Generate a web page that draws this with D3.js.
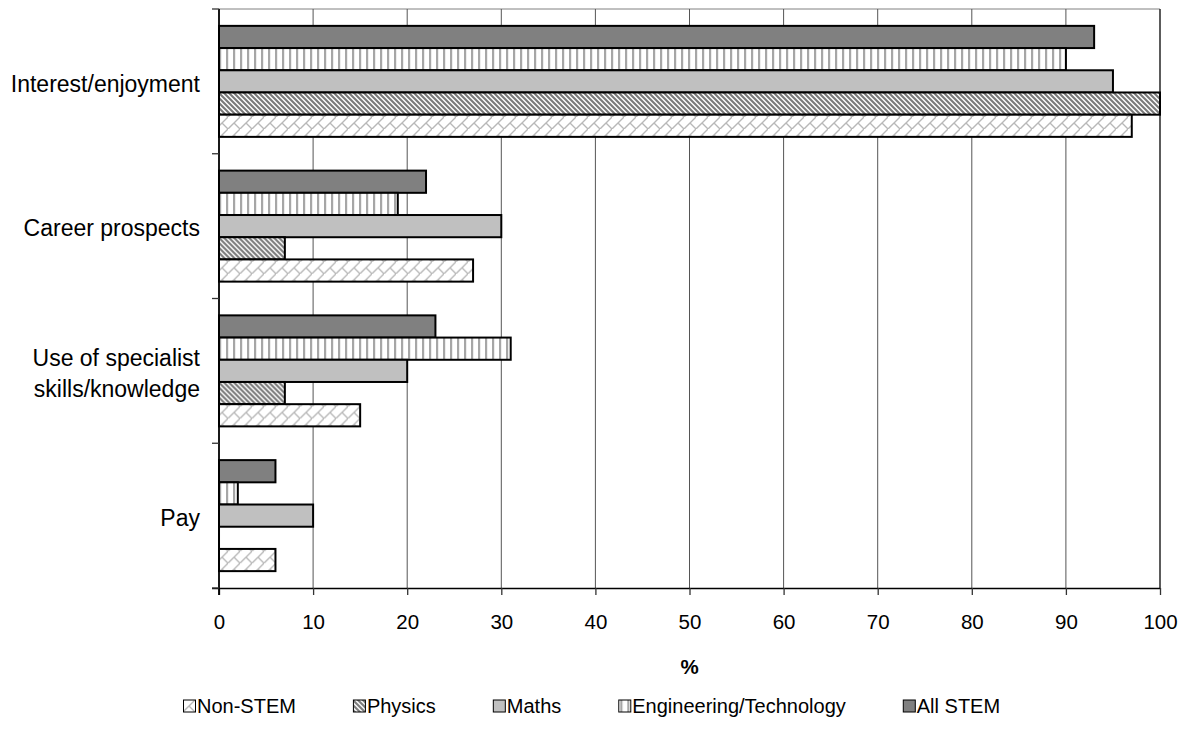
<!DOCTYPE html>
<html><head><meta charset="utf-8">
<script src="https://cdn.jsdelivr.net/npm/d3@7/dist/d3.min.js"></script>
<style>
html,body{margin:0;padding:0;background:#fff;}
svg{display:block;font-family:"Liberation Sans",Arial,sans-serif;}
</style></head>
<body>
<svg id="chart" width="1190" height="742"></svg>
<script>
// ---- data ----
const categories = ["Interest/enjoyment", "Career prospects", "Use of specialist\nskills/knowledge", "Pay"];
const seriesNames = ["All STEM", "Engineering/Technology", "Maths", "Physics", "Non-STEM"]; // top-to-bottom inside each group
const allSTEM     = [93, 22, 23, 6];
const engTech     = [90, 19, 31, 2];
const maths       = [95, 30, 20, 10];
const physics     = [100, 7, 7, 0];
const nonSTEM     = [97, 27, 15, 6];
const legendOrder = ["Non-STEM", "Physics", "Maths", "Engineering/Technology", "All STEM"];
const xTicks      = [0, 10, 20, 30, 40, 50, 60, 70, 80, 90, 100];
const xLabel      = "%";

const seriesValues = {
  "All STEM": allSTEM,
  "Engineering/Technology": engTech,
  "Maths": maths,
  "Physics": physics,
  "Non-STEM": nonSTEM
};

// ---- layout ----
const svg = d3.select("#chart");
const mLeft = 219, mRight = 1160, mTop = 9, mBottom = 588;

const defs = svg.append("defs");
// Engineering: vertical stripes
const pEng = defs.append("pattern").attr("id", "pEng").attr("patternUnits", "userSpaceOnUse")
  .attr("width", 7).attr("height", 7);
pEng.append("rect").attr("width", 7).attr("height", 7).attr("fill", "#fff");
pEng.append("rect").attr("x", 2).attr("width", 2.2).attr("height", 7).attr("fill", "#a6a6a6");
// Physics: dense downward diagonal
const pPhy = defs.append("pattern").attr("id", "pPhy").attr("patternUnits", "userSpaceOnUse")
  .attr("width", 5).attr("height", 5);
pPhy.append("rect").attr("width", 5).attr("height", 5).attr("fill", "#fff");
pPhy.append("path").attr("d", "M-1,-1 L6,6 M-1,4 L1,6 M4,-1 L6,1")
  .attr("stroke", "#7a7a7a").attr("stroke-width", 2.1);
// Non-STEM: diagonal brick
const s = 12;
const pNon = defs.append("pattern").attr("id", "pNon").attr("patternUnits", "userSpaceOnUse")
  .attr("width", s).attr("height", s);
pNon.append("rect").attr("width", s).attr("height", s).attr("fill", "#fff");
pNon.append("path").attr("d", `M-1,${s+1} L${s+1},-1 M${s/2},${s/2} L${s+1},${s+1} M-1,-1 L0,0`)
  .attr("stroke", "#b8b8b8").attr("stroke-width", 1.4).attr("fill", "none");

const fills = {
  "All STEM": "#808080",
  "Engineering/Technology": "url(#pEng)",
  "Maths": "#c0c0c0",
  "Physics": "url(#pPhy)",
  "Non-STEM": "url(#pNon)"
};

const x = d3.scaleLinear().domain([0, 100]).range([mLeft, mRight]);
const y0 = d3.scaleBand().domain(categories).range([mTop, mBottom]).padding(0);
const y1 = d3.scaleBand().domain(seriesNames).range([0, y0.bandwidth()]).paddingInner(0).paddingOuter(0.76);

// top border
svg.append("line").attr("x1", mLeft).attr("x2", mRight).attr("y1", mTop).attr("y2", mTop)
  .attr("stroke", "#808080").attr("stroke-width", 1);

// gridlines
svg.append("g").selectAll("line").data(xTicks.slice(1)).join("line")
  .attr("x1", d => x(d)).attr("x2", d => x(d)).attr("y1", mTop).attr("y2", mBottom)
  .attr("stroke", d => d === 100 ? "#333" : "#555").attr("stroke-width", d => d === 100 ? 1.6 : 1);

// bars
const groups = svg.append("g").selectAll("g").data(categories).join("g")
  .attr("transform", c => `translate(0,${y0(c)})`);
groups.each(function(c, ci) {
  d3.select(this).selectAll("rect").data(seriesNames).join("rect")
    .attr("x", x(0))
    .attr("y", sn => y1(sn))
    .attr("width", sn => Math.max(x(seriesValues[sn][ci]) - x(0), 0.01))
    .attr("height", y1.bandwidth())
    .attr("fill", sn => fills[sn])
    .attr("stroke", "#000").attr("stroke-width", 2);
});

// x axis
const xAxis = svg.append("g").attr("transform", `translate(0,${mBottom})`)
  .call(d3.axisBottom(x).tickValues(xTicks).tickSize(7).tickPadding(19).tickFormat(d3.format("d")));
xAxis.select(".domain").attr("stroke", "#000").attr("stroke-width", 1.5)
  .attr("d", `M${mLeft - 7},0.5H${mRight}`);
xAxis.selectAll(".tick line").attr("stroke", "#333").attr("stroke-width", 1.3);
xAxis.selectAll(".tick text").attr("font-size", 20.5).attr("fill", "#000")
  .attr("font-family", "Liberation Sans, Arial, sans-serif");

// y axis
const yAxis = svg.append("g").attr("transform", `translate(${mLeft},0)`);
yAxis.append("line").attr("x1", 0).attr("x2", 0).attr("y1", mTop).attr("y2", mBottom + 7)
  .attr("stroke", "#000").attr("stroke-width", 1.8);
const bounds = categories.map(c => y0(c)).concat([mBottom]);
yAxis.selectAll("line.tk").data(bounds).join("line").attr("class", "tk")
  .attr("x1", -7).attr("x2", 0).attr("y1", d => d).attr("y2", d => d)
  .attr("stroke", "#333").attr("stroke-width", 1.3);

// category labels
categories.forEach(c => {
  const lines = c.split("\n");
  const cy = y0(c) + y0.bandwidth() / 2 + 2;
  const lh = 31;
  const t = svg.append("text").attr("text-anchor", "end").attr("font-size", 23).attr("fill", "#000");
  lines.forEach((ln, i) => {
    t.append("tspan").attr("x", mLeft - 19)
      .attr("y", cy + (i - (lines.length - 1) / 2) * lh)
      .attr("dy", "0.36em").text(ln);
  });
});

// x label
svg.append("text").attr("x", x(50)).attr("y", 674).attr("text-anchor", "middle")
  .attr("font-size", 20.5).attr("font-weight", "bold").text(xLabel);

// legend
const lg = svg.append("g");
let lx = 183;
legendOrder.forEach(name => {
  const g = lg.append("g").attr("transform", `translate(${lx},700)`);
  g.append("rect").attr("x", 0.5).attr("y", 0).attr("width", 12).attr("height", 12)
    .attr("fill", fills[name]).attr("stroke", "#000").attr("stroke-width", 1);
  const t = g.append("text").attr("x", 14).attr("y", 6).attr("dy", "0.36em")
    .attr("font-size", 20).text(name);
  lx += 14 + t.node().getComputedTextLength() + 57;
});
</script>
</body></html>
